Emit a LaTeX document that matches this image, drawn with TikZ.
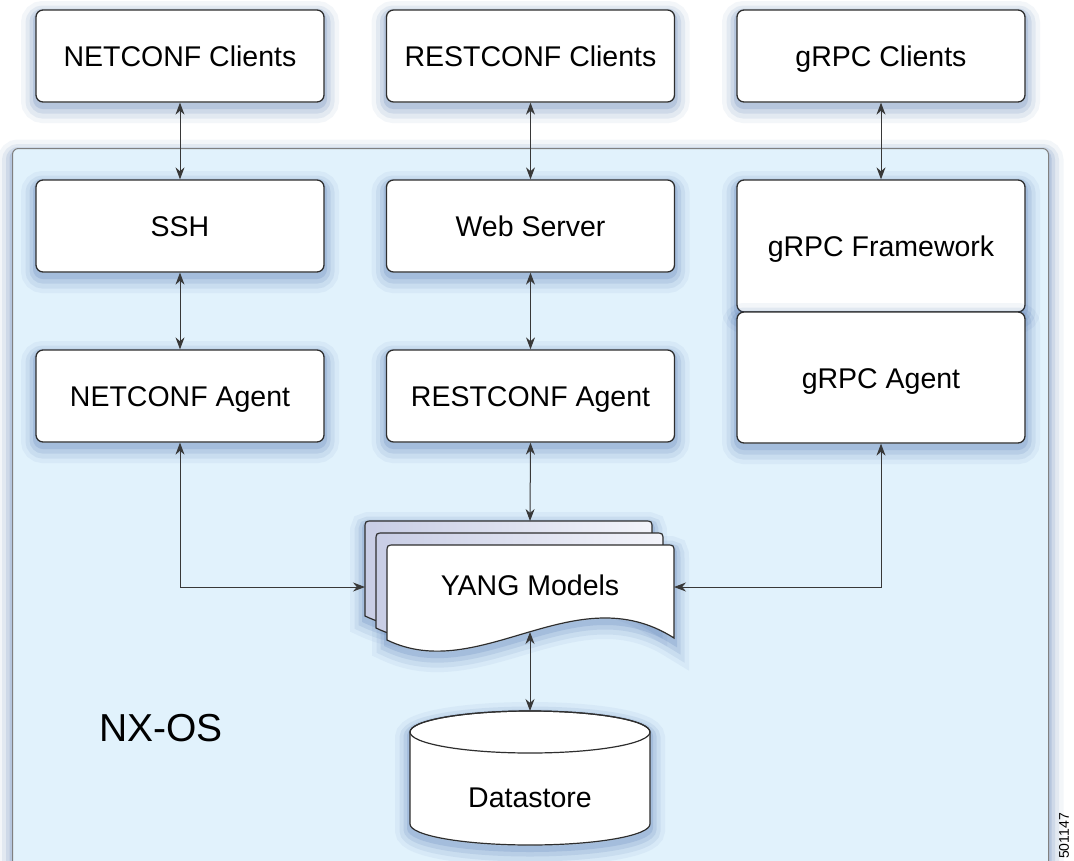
\documentclass[tikz,border=0pt]{standalone}
\usepackage{fontspec}
\setmainfont{Liberation Sans}
\usetikzlibrary{arrows.meta}
\definecolor{nxfill}{HTML}{E1F2FC}
\definecolor{nxline}{HTML}{808080}
\definecolor{boxline}{HTML}{2E2E2E}
\definecolor{glowc}{HTML}{3E66A8}
\definecolor{arrc}{HTML}{383838}
\definecolor{sheetL}{HTML}{C8CDE5}
\definecolor{sheetR}{HTML}{F3F4FA}
\tikzset{
  glow/.style={
    preaction={draw=glowc, draw opacity=0.06, line width=30pt, transform canvas={yshift=-6pt}},
    preaction={draw=glowc, draw opacity=0.09, line width=21pt, transform canvas={yshift=-6pt}},
    preaction={draw=glowc, draw opacity=0.12, line width=13pt, transform canvas={yshift=-5pt}},
    preaction={draw=glowc, draw opacity=0.16, line width=6pt, transform canvas={yshift=-4pt}}},
  box/.style={glow, draw=boxline, line width=1.3pt, fill=white, rounded corners=7pt,
    minimum width=288pt, minimum height=92pt, inner sep=0pt,
    text height=21pt, text depth=0pt,
    font=\fontsize{28.5}{32}\selectfont},
  container/.style={glow, draw=nxline, line width=1pt, fill=nxfill, rounded corners=6pt,
    inner sep=0pt},
  arr/.style={draw=arrc, line width=1pt,
    {Stealth[length=12pt,width=9pt]}-{Stealth[length=12pt,width=9pt]}},
  sheet/.style={draw=boxline, line width=1.2pt},
  lbl/.style={font=\fontsize{28.5}{32}\selectfont, inner sep=0pt, text height=21pt, text depth=0pt},
}
\newcommand{\sheetpath}{(387,640) -- (387,553) .. controls (387,545) .. (395,545) -- (666,545) .. controls (674,545) .. (674,553) -- (674,638) .. controls (575,575) and (480,685) .. (387,640) -- cycle}
\begin{document}
\begin{tikzpicture}[x=1pt,y=-1pt]
\useasboundingbox (0,0) rectangle (1074,860);
\fill[white] (0,0) rectangle (1074,860);

% NX-OS container
\node[container, anchor=north west, minimum width=1036pt, minimum height=760pt] (nx) at (12,148) {};
\node[font=\fontsize{39}{44}\selectfont, inner sep=0pt] (nxlbl) at (161,728) {NX-OS};
\node[rotate=90, font=\fontsize{14}{14}\selectfont, inner sep=0pt] (figid) at (1064,836) {501147};

% top row clients
\node[box] (ncc) at (180,56) {NETCONF Clients};
\node[box] (rcc) at (530.5,56) {RESTCONF Clients};
\node[box] (gcc) at (881,56) {gRPC Clients};

% second row
\node[box] (ssh) at (180,226) {SSH};
\node[box] (web) at (530.5,226) {Web Server};
\node[box, minimum height=132pt] (gfw) at (881,246) {gRPC Framework};

% third row
\node[box] (nca) at (180,396) {NETCONF Agent};
\node[box] (rca) at (530.5,396) {RESTCONF Agent};
\node[box, minimum height=131pt] (gra) at (881,377.5) {gRPC Agent};

% YANG models stack
\begin{scope}[shift={(-22,-24)}]
  \path[glow] \sheetpath;
\end{scope}
\path[glow] \sheetpath;
\begin{scope}[shift={(-22,-24)}]
  \draw[sheet, left color=sheetL, right color=sheetR] \sheetpath;
\end{scope}
\begin{scope}[shift={(-11,-12)}]
  \draw[sheet, left color=sheetL, right color=sheetR] \sheetpath;
\end{scope}
\draw[sheet, fill=white] \sheetpath;
\node[lbl] (yang) at (530,585) {YANG Models};
\coordinate (yangL) at (365,587);
\coordinate (yangR) at (674,587);
\coordinate (yangT) at (530,521);
\coordinate (yangB) at (530,632);

% Datastore cylinder
\path[glow] (410,732) -- (410,824) arc[start angle=180, end angle=360, x radius=120, y radius=-21] -- (650,732) arc[start angle=0, end angle=180, x radius=120, y radius=-21] -- cycle;
\draw[sheet, fill=white] (410,732) -- (410,824) arc[start angle=180, end angle=360, x radius=120, y radius=-21] -- (650,732) arc[start angle=0, end angle=180, x radius=120, y radius=-21] -- cycle;
\draw[sheet] (530,732) ellipse[x radius=120, y radius=21];
\node[lbl] (ds) at (530,797) {Datastore};
\coordinate (dsT) at (530,711);

% connectors
\draw[arr] (ncc.south) -- (ssh.north);
\draw[arr] (rcc.south) -- (web.north);
\draw[arr] (gcc.south) -- (gfw.north);
\draw[arr] (ssh.south) -- (nca.north);
\draw[arr] (web.south) -- (rca.north);
\draw[arr] (rca.south) -- (yangT);
\draw[arr] (nca.south) |- (yangL);
\draw[arr] (gra.south) |- (yangR);
\draw[arr] (yangB) -- (dsT);
\end{tikzpicture}
\end{document}
